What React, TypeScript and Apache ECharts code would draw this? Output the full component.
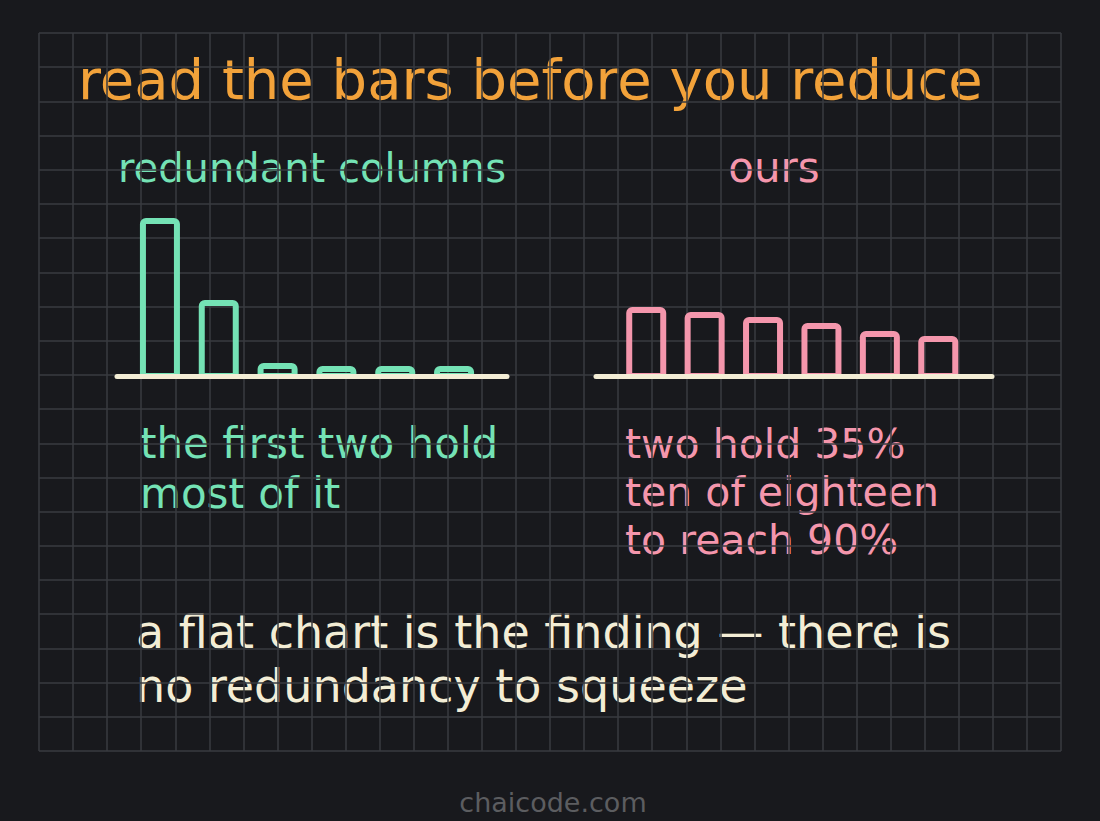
import React, { useEffect, useRef } from 'react';
import * as echarts from 'echarts';

// bar slots shared by both panels
const barSlots = [1, 2, 3, 4, 5, 6];
// share held by each column (%), redundant columns vs ours
const redundantShare = [40.25, 19.75, 4, 3.25, 3.25, 3.25];
const oursShare = [18, 16.75, 15.5, 14, 12, 10.75];

const titleText = 'read the bars before you reduce';
const leftHeading = 'redundant columns';
const rightHeading = 'ours';
const leftNotes = ['the first two hold', 'most of it'];
const rightNotes = ['two hold 35%', 'ten of eighteen', 'to reach 90%'];
const footerNotes = ['a flat chart is the finding \u2014 there is', 'no redundancy to squeeze'];
const credit = 'chaicode.com';

const BG = '#18191d';
const GRID_LINE = '#393b40';
const ORANGE = '#f2a23a';
const TEAL = '#74e2b5';
const PINK = '#f496ac';
const CREAM = '#f3edd5';
const GREY = '#5c5d60';
const FONT = '"DejaVu Sans"';

// text block placed by the baseline of its first line
const label = (
  lines: string[],
  x: number,
  baseline: number,
  size: number,
  lineHeight: number,
  fill: string,
  align: 'left' | 'center' = 'left'
) => ({
  type: 'text',
  x,
  y: baseline - size * 0.35 - lineHeight / 2,
  silent: true,
  style: {
    text: lines.join('\n'),
    fill,
    font: `${size}px ${FONT}`,
    lineHeight,
    textAlign: align,
    textVerticalAlign: 'top',
  },
});

const App: React.FC = () => {
  const chartRef = useRef<HTMLDivElement>(null);

  useEffect(() => {
    if (!chartRef.current) return;
    const chart = echarts.init(chartRef.current, undefined, { renderer: 'svg' });

    // baseline sits a little above the bars' feet so their bottom edge hides under it
    const barAxis = (gridIndex: number, min: number, max: number) => ({
      type: 'value' as const,
      gridIndex,
      min,
      max,
      z: 5,
      offset: -3,
      axisLine: { show: true, onZero: false, lineStyle: { color: CREAM, width: 5, cap: 'round' } },
      axisTick: { show: false },
      axisLabel: { show: false },
      splitLine: { show: false },
    });

    const hiddenY = (gridIndex: number) => ({
      type: 'value' as const,
      gridIndex,
      min: 0,
      max: 50,
      show: false,
    });

    const barStyle = (color: string) => ({
      color: 'transparent',
      borderColor: color,
      borderWidth: 6,
      borderRadius: [3, 3, 0, 0],
      borderJoin: 'round',
    });

    const option: echarts.EChartsOption = {
      animation: false,
      backgroundColor: BG,
      grid: [
        { left: 39, top: 33, width: 1022, height: 718 },
        { left: 117, top: 179, width: 390, height: 200 },
        { left: 596, top: 179, width: 396, height: 200 },
      ],
      xAxis: [
        {
          type: 'value',
          gridIndex: 0,
          min: 0,
          max: 30,
          interval: 1,
          axisLine: { show: false },
          axisTick: { show: false },
          axisLabel: { show: false },
          splitLine: { show: true, lineStyle: { color: GRID_LINE, width: 1.5 } },
        },
        barAxis(1, 0.27, 6.9),
        barAxis(2, 0.14, 6.92),
      ],
      yAxis: [
        {
          type: 'value',
          gridIndex: 0,
          min: 0,
          max: 21,
          interval: 1,
          axisLine: { show: false },
          axisTick: { show: false },
          axisLabel: { show: false },
          splitLine: { show: true, lineStyle: { color: GRID_LINE, width: 1.5 } },
        },
        hiddenY(1),
        hiddenY(2),
      ],
      series: [
        {
          type: 'bar',
          xAxisIndex: 1,
          yAxisIndex: 1,
          barWidth: 40,
          data: barSlots.map((s, i) => [s, redundantShare[i]]),
          itemStyle: barStyle(TEAL) as any,
        },
        {
          type: 'bar',
          xAxisIndex: 2,
          yAxisIndex: 2,
          barWidth: 40,
          data: barSlots.map((s, i) => [s, oursShare[i]]),
          itemStyle: barStyle(PINK) as any,
        },
      ],
      graphic: [
        label([titleText], 78, 99, 56, 60, ORANGE),
        label([leftHeading], 312, 182, 40, 44, TEAL, 'center'),
        label([rightHeading], 774, 182, 42, 44, PINK, 'center'),
        label(leftNotes, 140, 458, 42, 50, TEAL),
        label(rightNotes, 625, 458, 41, 48, PINK),
        label(footerNotes, 136, 648, 46, 54, CREAM),
        label([credit], 553, 812, 27, 30, GREY, 'center'),
      ] as any,
    };

    chart.setOption(option);
    return () => chart.dispose();
  }, []);

  return (
    <div
      ref={chartRef}
      style={{ position: 'fixed', left: 0, top: 0, width: '1100px', height: '821px' }}
    />
  );
};

export default App;
